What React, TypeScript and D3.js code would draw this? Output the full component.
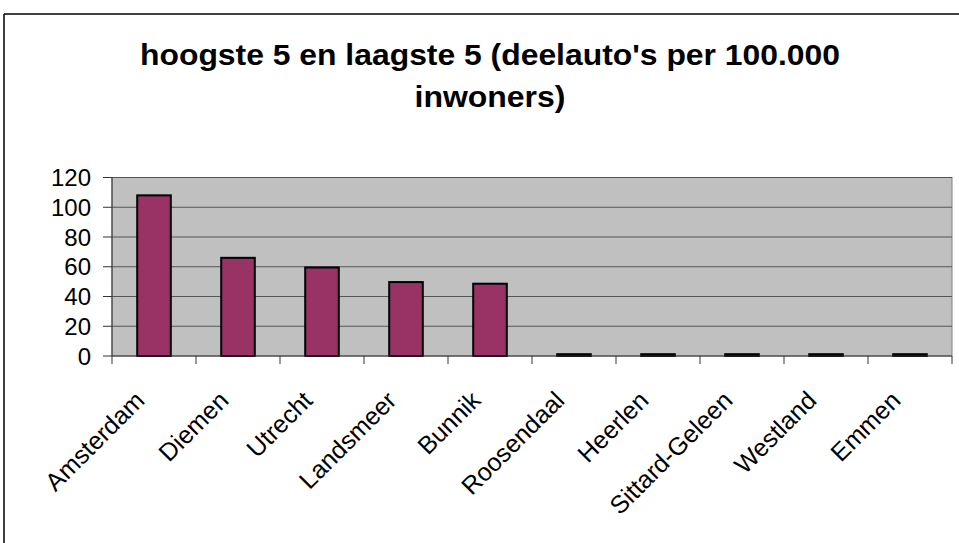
import React from 'react';
import * as d3 from 'd3';

const categories = ['Amsterdam', 'Diemen', 'Utrecht', 'Landsmeer', 'Bunnik', 'Roosendaal', 'Heerlen', 'Sittard-Geleen', 'Westland', 'Emmen'];
const values = [108, 66, 59.5, 49.7, 48.6, 1.2, 1.2, 1.2, 1.2, 1.2];
const yTicks = [0, 20, 40, 60, 80, 100, 120];
const titleLines = ["hoogste 5 en laagste 5 (deelauto's per 100.000", 'inwoners)'];

const W = 959;
const H = 543;
const plot = { left: 112, right: 952, top: 177.5, bottom: 356 };

const App = () => {
  const x = d3.scaleBand<string>()
    .domain(categories)
    .range([plot.left, plot.right])
    .paddingInner(0.6)
    .paddingOuter(0.3);
  const step = (plot.right - plot.left) / categories.length;
  const y = d3.scaleLinear().domain([0, 120]).range([plot.bottom, plot.top]);

  return (
    <svg width={W} height={H} style={{ position: 'absolute', left: 0, top: 0, fontFamily: 'Liberation Sans, Arial, sans-serif' }}>
      <rect width={W} height={H} fill="white" />
      {/* chart frame */}
      <line x1={4} x2={W} y1={14} y2={14} stroke="black" strokeWidth={1.5} />
      <line x1={4} x2={4} y1={14} y2={H} stroke="black" strokeWidth={1.5} />

      {/* title */}
      <g fontWeight="bold" fontSize={29} textAnchor="middle">
        <text x={490} y={65} textLength={700} lengthAdjust="spacingAndGlyphs">{titleLines[0]}</text>
        <text x={490} y={107} textLength={151} lengthAdjust="spacingAndGlyphs">{titleLines[1]}</text>
      </g>

      {/* plot area */}
      <rect x={plot.left} y={plot.top} width={plot.right - plot.left} height={plot.bottom - plot.top} fill="#c0c0c0" stroke="#808080" strokeWidth={1} />
      {yTicks.filter(t => t > 0).map(t => (
        <line key={t} x1={plot.left} x2={plot.right} y1={y(t)} y2={y(t)} stroke="#555" strokeWidth={1} />
      ))}

      {/* bars */}
      {categories.map((c, i) => (
        <rect key={c} x={x(c)} y={y(values[i])} width={x.bandwidth()} height={plot.bottom - y(values[i])}
          fill="#993366" stroke="black" strokeWidth={2} />
      ))}

      {/* y axis */}
      <line x1={plot.left} x2={plot.left} y1={plot.top} y2={plot.bottom} stroke="#333" strokeWidth={1} />
      {yTicks.map(t => (
        <g key={t}>
          <line x1={plot.left - 9} x2={plot.left} y1={y(t)} y2={y(t)} stroke="#333" />
          <text x={91} y={y(t)} dy="0.36em" textAnchor="end" fontSize={24}>{t}</text>
        </g>
      ))}

      {/* x axis */}
      <line x1={plot.left} x2={plot.right} y1={plot.bottom} y2={plot.bottom} stroke="#333" strokeWidth={1} />
      {d3.range(categories.length + 1).map(k => (
        <line key={k} x1={plot.left + k * step} x2={plot.left + k * step} y1={plot.bottom} y2={plot.bottom + 8} stroke="#333" />
      ))}
      {categories.map(c => {
        const cx = (x(c) as number) + x.bandwidth() / 2;
        return (
          <text key={c} transform={`translate(${cx - 8},${plot.bottom + 46}) rotate(-45)`} textAnchor="end" fontSize={25}>{c}</text>
        );
      })}
    </svg>
  );
};

export default App;
